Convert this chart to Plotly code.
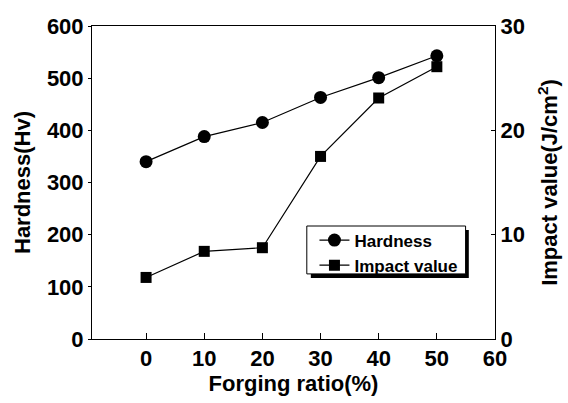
import plotly.graph_objects as go

forging_ratio = [0, 10, 20, 30, 40, 50]
hardness = [340, 388, 415, 463, 501, 543]
impact_value = [5.9, 8.4, 8.75, 17.5, 23.1, 26.1]

x_ticks = [0, 10, 20, 30, 40, 50, 60]
left_ticks = [0, 100, 200, 300, 400, 500, 600]
right_ticks = [0, 10, 20, 30]

FONT = "Liberation Sans"
TICKFONT = dict(family=FONT, size=22, color="black")
TITLEFONT = dict(family=FONT, size=22, color="black")

fig = go.Figure()
fig.add_trace(go.Scatter(
    x=forging_ratio, y=hardness, name="<b>Hardness</b>", mode="lines+markers",
    line=dict(color="black", width=1.2),
    marker=dict(symbol="circle", size=13, color="black"),
))
fig.add_trace(go.Scatter(
    x=forging_ratio, y=impact_value, name="<b>Impact value</b>", mode="lines+markers",
    line=dict(color="black", width=1.2),
    marker=dict(symbol="square", size=11, color="black"),
    yaxis="y2",
))

fig.update_layout(
    width=568, height=403,
    margin=dict(l=92, r=73, t=26, b=64),
    paper_bgcolor="white", plot_bgcolor="white",
    font=dict(family=FONT, color="black", size=18),
    showlegend=True,
    legend=dict(
        x=0.552, y=0.372, xanchor="left", yanchor="top",
        bgcolor="rgba(0,0,0,0)", borderwidth=0,
        font=dict(size=17, family=FONT, color="black"),
        tracegroupgap=0,
    ),
    xaxis=dict(
        range=[-9.3, 60], tickvals=x_ticks, ticktext=[f"<b>{v}</b>" for v in x_ticks],
        tickfont=TICKFONT,
        ticks="inside", ticklen=6, tickcolor="black",
        showline=True, linecolor="black", linewidth=1, mirror=True,
        showgrid=False, zeroline=False,
        title=dict(text="<b>Forging ratio(%)</b>", font=TITLEFONT, standoff=5),
    ),
    yaxis=dict(
        range=[0, 600], tickvals=left_ticks, ticktext=[f"<b>{v}</b>" for v in left_ticks],
        tickfont=TICKFONT,
        ticks="outside", ticklen=3, tickcolor="black",
        showline=True, linecolor="black", linewidth=1,
        showgrid=False, zeroline=False,
        title=dict(text="<b>Hardness(Hv)</b>", font=TITLEFONT, standoff=10),
    ),
    yaxis2=dict(
        range=[0, 30], tickvals=right_ticks, ticktext=[f"<b>{v}</b>" for v in right_ticks],
        tickfont=TICKFONT,
        overlaying="y", side="right",
        ticks="inside", ticklen=4, tickcolor="black",
        showline=True, linecolor="black", linewidth=1,
        showgrid=False, zeroline=False,
        title=dict(text="<b>Impact value(J/cm<sup>2</sup>)</b>", font=TITLEFONT, standoff=17),
    ),
)

# legend frame with drop shadow
fig.add_shape(type="rect", xref="paper", yref="paper",
              x0=0.543, x1=0.935, y0=0.195, y1=0.348,
              fillcolor="black", line=dict(width=0), layer="above")
fig.add_shape(type="rect", xref="paper", yref="paper",
              x0=0.533, x1=0.927, y0=0.208, y1=0.361,
              fillcolor="white", line=dict(color="black", width=1), layer="above")

fig.write_html("out.html", config={"displayModeBar": False},
               post_script="document.body.style.margin='0';")
